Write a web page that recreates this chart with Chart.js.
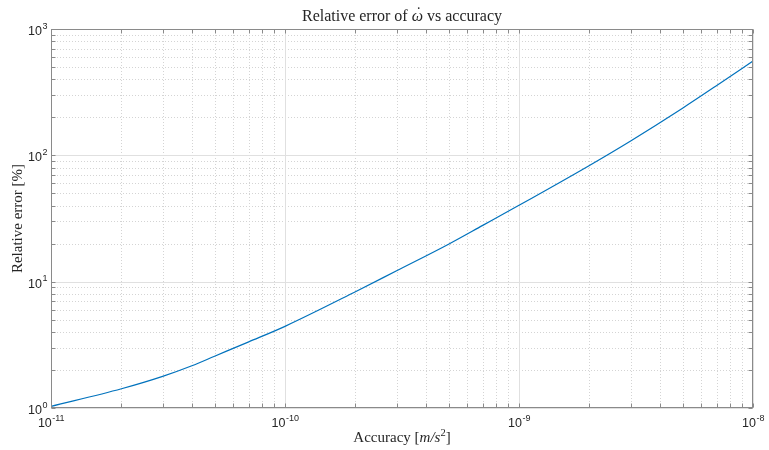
<!DOCTYPE html>
<html>
<head>
<meta charset="utf-8">
<title>Relative error vs accuracy</title>
<script src="https://cdn.jsdelivr.net/npm/chart.js@4/dist/chart.umd.min.js"></script>
<style>
  html, body { margin: 0; padding: 0; background: #ffffff; }
  canvas { display: block; }
</style>
</head>
<body>
<canvas id="chart" width="769" height="450"></canvas>
<script>
// Accelerometer accuracy [m/s^2] and the resulting relative error of omega-dot [%]
const accuracy = [1e-11, 2e-11, 3e-11, 4e-11, 5e-11, 7e-11, 1e-10, 2e-10, 3e-10, 5e-10, 7e-10,
                  1e-9, 2e-9, 3e-9, 5e-9, 7e-9, 1e-8];
const relError = [1.03, 1.42, 1.78, 2.16, 2.57, 3.34, 4.43, 8.32, 12.2, 19.8, 27.9,
                  40.2, 83.2, 130, 236, 357, 559];

// Decade exponents labelled on each axis
const xExponents = [-11, -10, -9, -8];
const yExponents = [0, 1, 2, 3];

const titleParts = [
  { text: 'Relative error of ', italic: false },
  { text: '\u03C9', italic: true, dot: true },
  { text: ' vs accuracy', italic: false }
];
const xLabelParts = [
  { text: 'Accuracy [', italic: false },
  { text: 'm/s', italic: true },
  { text: '2', sup: true },
  { text: ']', italic: false }
];
const yLabel = 'Relative error [%]';

const SERIF = '"Liberation Serif", "DejaVu Serif", serif';
const SANS = '"Liberation Sans", Arial, sans-serif';
const TEXT_COLOR = '#262626';

// Decade and in-between (2..9) values for a list of exponents
function logGridValues(exps) {
  const major = [], minor = [];
  for (let i = 0; i < exps.length; i++) {
    major.push(Math.pow(10, exps[i]));
    if (i < exps.length - 1) {
      for (let m = 2; m <= 9; m++) minor.push(m * Math.pow(10, exps[i]));
    }
  }
  return { major, minor };
}

function crisp(v) { return Math.round(v) + 0.5; }

// "10" with a raised exponent
function drawPower(ctx, exp, x, y, align) {
  const baseFont = '12.5px ' + SANS;
  const expFont = '9px ' + SANS;
  ctx.font = baseFont;
  const wBase = ctx.measureText('10').width;
  ctx.font = expFont;
  const expText = String(exp);
  const wExp = ctx.measureText(expText).width;
  const total = wBase + wExp;
  let start = x;
  if (align === 'center') start = x - total / 2;
  else if (align === 'right') start = x - total;
  ctx.textAlign = 'left';
  ctx.textBaseline = 'alphabetic';
  ctx.font = baseFont;
  ctx.fillText('10', start, y);
  ctx.font = expFont;
  ctx.fillText(expText, start + wBase + 0.5, y - 6.5);
}

// Mixed upright / italic / superscript text centred on x
function drawRich(ctx, parts, cx, y, size) {
  const fontFor = p => (p.italic ? 'italic ' : '') + (p.sup ? (size * 0.7) : size) + 'px ' + SERIF;
  let total = 0;
  const widths = parts.map(p => { ctx.font = fontFor(p); const w = ctx.measureText(p.text).width; total += w; return w; });
  let x = cx - total / 2;
  ctx.textAlign = 'left';
  ctx.textBaseline = 'alphabetic';
  parts.forEach((p, i) => {
    ctx.font = fontFor(p);
    ctx.fillText(p.text, x, p.sup ? y - size * 0.4 : y);
    if (p.dot) {
      // dot accent over the symbol
      ctx.font = size + 'px ' + SERIF;
      ctx.textAlign = 'center';
      ctx.fillText('\u02D9', x + widths[i] / 2 + size * 0.08, y - size * 0.18);
      ctx.textAlign = 'left';
    }
    x += widths[i];
  });
}

const logAxesPlugin = {
  id: 'logAxes',
  beforeDraw(chart) {
    const ctx = chart.ctx;
    ctx.save();
    ctx.fillStyle = '#ffffff';
    ctx.fillRect(0, 0, chart.width, chart.height);
    ctx.restore();
  },
  beforeDatasetsDraw(chart) {
    const { ctx, chartArea: a, scales: { x, y } } = chart;
    const gx = logGridValues(xExponents);
    const gy = logGridValues(yExponents);
    ctx.save();
    ctx.lineWidth = 1;
    // minor grid, dotted
    ctx.strokeStyle = '#d4d4d4';
    ctx.setLineDash([1, 2]);
    ctx.beginPath();
    gx.minor.forEach(v => { const px = crisp(x.getPixelForValue(v)); ctx.moveTo(px, a.top); ctx.lineTo(px, a.bottom); });
    gy.minor.forEach(v => { const py = crisp(y.getPixelForValue(v)); ctx.moveTo(a.left, py); ctx.lineTo(a.right, py); });
    ctx.stroke();
    // major grid, solid
    ctx.setLineDash([]);
    ctx.strokeStyle = '#e0e0e0';
    ctx.beginPath();
    gx.major.forEach(v => { const px = crisp(x.getPixelForValue(v)); ctx.moveTo(px, a.top); ctx.lineTo(px, a.bottom); });
    gy.major.forEach(v => { const py = crisp(y.getPixelForValue(v)); ctx.moveTo(a.left, py); ctx.lineTo(a.right, py); });
    ctx.stroke();
    ctx.restore();
  },
  afterDatasetsDraw(chart) {
    const { ctx, chartArea: a, scales: { x, y } } = chart;
    const gx = logGridValues(xExponents);
    const gy = logGridValues(yExponents);
    const L = crisp(a.left), R = crisp(a.right) - 1, T = crisp(a.top), B = crisp(a.bottom) - 1;
    ctx.save();
    ctx.strokeStyle = '#8a8a8a';
    ctx.lineWidth = 1;
    // box
    ctx.strokeRect(L, T, R - L, B - T);
    // inward tick marks on all four sides
    const tick = 4;
    ctx.beginPath();
    gx.major.concat(gx.minor).forEach(v => {
      const px = crisp(x.getPixelForValue(v));
      ctx.moveTo(px, B); ctx.lineTo(px, B - tick);
      ctx.moveTo(px, T); ctx.lineTo(px, T + tick);
    });
    gy.major.concat(gy.minor).forEach(v => {
      const py = crisp(y.getPixelForValue(v));
      ctx.moveTo(L, py); ctx.lineTo(L + tick, py);
      ctx.moveTo(R, py); ctx.lineTo(R - tick, py);
    });
    ctx.stroke();

    // tick labels
    ctx.fillStyle = TEXT_COLOR;
    xExponents.forEach(e => {
      drawPower(ctx, e, x.getPixelForValue(Math.pow(10, e)), a.bottom + 19, 'center');
    });
    yExponents.forEach(e => {
      drawPower(ctx, e, a.left - 4, y.getPixelForValue(Math.pow(10, e)) + 6, 'right');
    });

    // title and axis titles
    drawRich(ctx, titleParts, (a.left + a.right) / 2, 21, 16);
    drawRich(ctx, xLabelParts, (a.left + a.right) / 2, 442, 15);
    ctx.save();
    ctx.translate(22, (a.top + a.bottom) / 2);
    ctx.rotate(-Math.PI / 2);
    ctx.font = '15px ' + SERIF;
    ctx.textAlign = 'center';
    ctx.textBaseline = 'alphabetic';
    ctx.fillText(yLabel, 0, 0);
    ctx.restore();
    ctx.restore();
  }
};

new Chart(document.getElementById('chart'), {
  type: 'line',
  data: {
    datasets: [{
      data: accuracy.map((v, i) => ({ x: v, y: relError[i] })),
      borderColor: '#0072BD',
      borderWidth: 1.2,
      pointRadius: 0,
      cubicInterpolationMode: 'monotone',
      fill: false
    }]
  },
  options: {
    responsive: false,
    animation: false,
    devicePixelRatio: 1,
    layout: { padding: { top: 29, right: 16, bottom: 42, left: 51 } },
    plugins: { legend: { display: false }, tooltip: { enabled: false } },
    scales: {
      x: { type: 'logarithmic', min: 1e-11, max: 1e-8, display: false },
      y: { type: 'logarithmic', min: 1, max: 1000, display: false }
    }
  },
  plugins: [logAxesPlugin]
});
</script>
</body>
</html>
